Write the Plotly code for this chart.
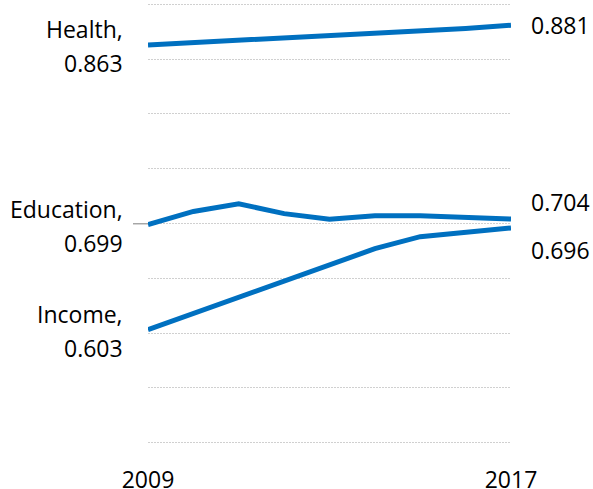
import plotly.graph_objects as go

years = [2009, 2010, 2011, 2012, 2013, 2014, 2015, 2016, 2017]
health = [0.863, 0.865, 0.867, 0.869, 0.871, 0.873, 0.875, 0.878, 0.881]
education = [0.699, 0.711, 0.718, 0.709, 0.704, 0.707, 0.707, 0.705, 0.704]
income = [0.603, 0.618, 0.632, 0.647, 0.663, 0.677, 0.688, 0.692, 0.696]
names = ["Health", "Education", "Income"]
series = [health, education, income]
tick_years = [2009, 2017]

BLUE = "#0070C0"
FONT = "Open Sans"
FS = 23

fig = go.Figure()
for nm, vals in zip(names, series):
    fig.add_trace(go.Scatter(x=years, y=vals, mode="lines", name=nm,
                             line=dict(color=BLUE, width=5), showlegend=False,
                             hoverinfo="skip"))

ann = []
right_shift = {"Health": 0, "Education": 17, "Income": -22}
for nm, vals in zip(names, series):
    ann.append(dict(x=years[-1], y=vals[-1], xref="x", yref="y",
                    text=f"{vals[-1]:.3f}", showarrow=False,
                    xanchor="left", yanchor="middle", xshift=18,
                    yshift=right_shift[nm], font=dict(family=FONT, size=FS, color="#000")))
    ann.append(dict(x=years[0], y=vals[0], xref="x", yref="y",
                    text=f"{nm},", showarrow=False,
                    xanchor="right", yanchor="middle", xshift=-23,
                    yshift=16, font=dict(family=FONT, size=FS, color="#000")))
    ann.append(dict(x=years[0], y=vals[0], xref="x", yref="y",
                    text=f"{vals[0]:.3f}", showarrow=False,
                    xanchor="right", yanchor="middle", xshift=-23,
                    yshift=-18, font=dict(family=FONT, size=FS, color="#000")))

fig.update_layout(
    width=593, height=489,
    margin=dict(l=148, r=82, t=0, b=42, autoexpand=False),
    paper_bgcolor="white", plot_bgcolor="white",
    annotations=ann,
    shapes=[dict(type="line", xref="paper", yref="y", xsizemode="pixel",
                 xanchor=0, x0=-15, x1=0, y0=education[0] + 0.0008,
                 y1=education[0] + 0.0008,
                 line=dict(color="#a6a6a6", width=1.5), layer="below")],
)
fig.update_xaxes(range=[2009, 2017], showgrid=False, zeroline=False, showline=False,
                 tickmode="array", tickvals=tick_years, ticktext=[str(t) for t in tick_years],
                 ticks="outside", ticklen=12, tickcolor="rgba(0,0,0,0)",
                 tickfont=dict(family=FONT, size=FS, color="#000"), automargin=False)
fig.update_yaxes(range=[0.496, 0.904], dtick=0.05, tick0=0.5, showticklabels=False,
                 showgrid=True, gridcolor="#d0d0d0", gridwidth=1, griddash="2px,1px",
                 zeroline=False, showline=False, automargin=False)

fig.write_html("out.html")
